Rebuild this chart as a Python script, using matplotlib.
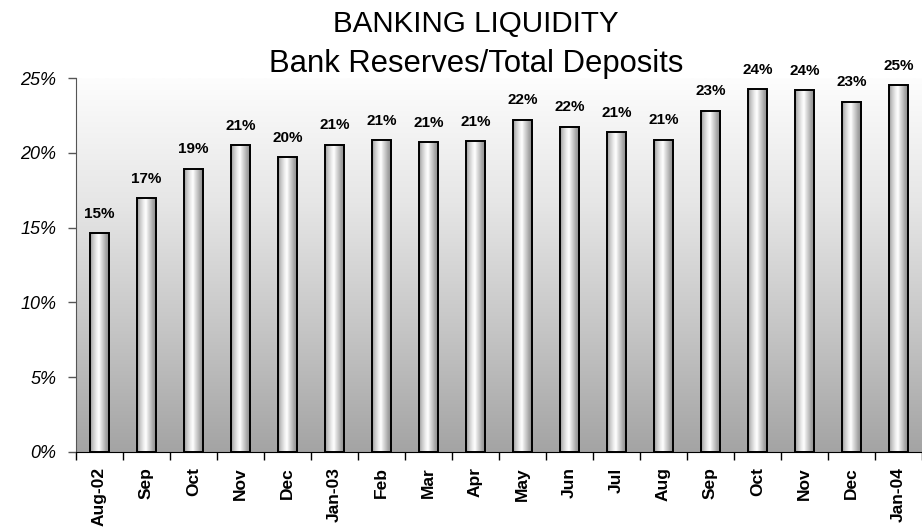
import numpy as np
import matplotlib
matplotlib.use("Agg")
import matplotlib.pyplot as plt
from matplotlib.colors import LinearSegmentedColormap
from matplotlib.ticker import FixedLocator, PercentFormatter

plt.rcParams['font.family'] = ['Liberation Sans', 'DejaVu Sans']

# Reserves as a share of total deposits, monthly
months = ["Aug-02", "Sep", "Oct", "Nov", "Dec", "Jan-03", "Feb", "Mar", "Apr",
          "May", "Jun", "Jul", "Aug", "Sep", "Oct", "Nov", "Dec", "Jan-04"]
ratio = [0.1462, 0.1696, 0.1892, 0.2052, 0.1970, 0.2054, 0.2083, 0.2070, 0.2077,
         0.2221, 0.2174, 0.2137, 0.2086, 0.2281, 0.2426, 0.2418, 0.2342, 0.2452]
y_ticks = [0.0, 0.05, 0.10, 0.15, 0.20, 0.25]

fig = plt.figure(figsize=(9.22, 5.30), dpi=100)
fig.patch.set_facecolor("white")
ax = fig.add_axes([76 / 922, 1 - 452 / 530, (922 - 76) / 922, (452 - 78) / 530])

x = np.arange(len(months))

# vertical white-to-grey backdrop
bg_cmap = LinearSegmentedColormap.from_list("bg", ["#a4a4a4", "#c6c6c6", "#e6e6e6", "#fdfdfd"])
bg = np.linspace(0, 1, 256).reshape(-1, 1)
ax.imshow(bg, cmap=bg_cmap, origin="lower", extent=[0, 1, 0, 1],
          transform=ax.transAxes, aspect="auto", zorder=0)
ax.set_facecolor("none")

# cylinder shading across each bar
cyl_cmap = LinearSegmentedColormap.from_list(
    "cyl",
    [(0.0, "#9a9a9a"), (0.15, "#c8c8c8"), (0.35, "#f2f2f2"), (0.45, "#ffffff"),
     (0.6, "#d8d8d8"), (0.8, "#a8a8a8"), (1.0, "#858585")])
shade = np.linspace(0, 1, 64).reshape(1, -1)

bars = ax.bar(x, ratio, width=0.41, facecolor="none", edgecolor="black",
              linewidth=1.4, zorder=3)
for rect in bars:
    x0, w, h = rect.get_x(), rect.get_width(), rect.get_height()
    ax.imshow(shade, cmap=cyl_cmap, extent=[x0, x0 + w, 0, h],
              aspect="auto", zorder=2, interpolation="bilinear")
ax.set_xlim(-0.5, len(months) - 0.5)
ax.set_ylim(0, 0.25)

for xi, v in zip(x, ratio):
    ax.annotate(f"{v * 100:.0f}%", (xi, v), xytext=(0, 9), textcoords="offset points",
                ha="center", va="bottom", fontsize=11, fontweight="bold")

# axes styling
for side in ("top", "right"):
    ax.spines[side].set_visible(False)
ax.spines["left"].set_color("#555555")
ax.spines["bottom"].set_color("black")

ax.yaxis.set_major_locator(FixedLocator(y_ticks))
ax.yaxis.set_major_formatter(PercentFormatter(1.0, decimals=0))
ax.tick_params(axis="y", length=6, width=1, color="#555555", pad=8)
for lbl in ax.get_yticklabels():
    lbl.set_fontsize(13)
    lbl.set_fontstyle("italic")

ax.set_xticks(x)
ax.set_xticklabels(months, rotation=90, fontsize=12.5, fontweight="bold")
ax.tick_params(axis="x", which="major", length=0, pad=11)
ax.set_xticks(np.arange(-0.5, len(months), 1.0), minor=True)
ax.tick_params(axis="x", which="minor", length=6, width=1, color="black")

fig.text(476 / 922, 1 - 31.7 / 530, "BANKING LIQUIDITY", ha="center", va="baseline",
         fontsize=21.3)
fig.text(476 / 922, 1 - 71.7 / 530, "Bank Reserves/Total Deposits", ha="center",
         va="baseline", fontsize=22.3)

fig.savefig("out.png", dpi=100)
